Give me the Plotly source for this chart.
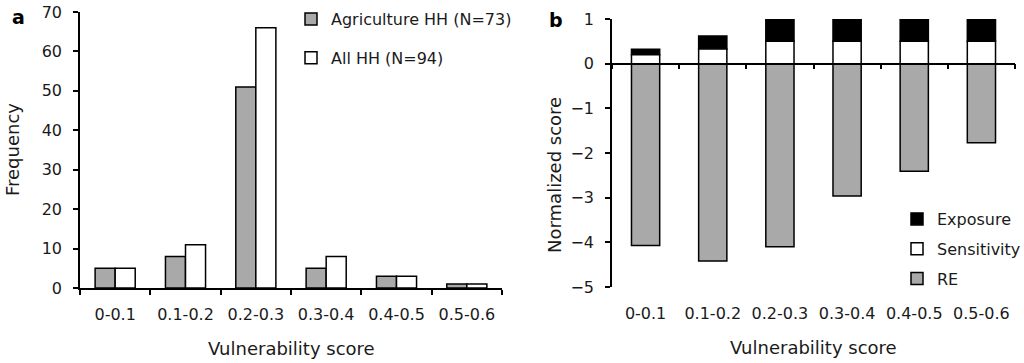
import plotly.graph_objects as go

categories = ["0-0.1", "0.1-0.2", "0.2-0.3", "0.3-0.4", "0.4-0.5", "0.5-0.6"]
agri_hh = [5, 8, 51, 5, 3, 1]
all_hh = [5, 11, 66, 8, 3, 1]
re_score = [-4.07, -4.42, -4.1, -2.96, -2.41, -1.77]
sensitivity = [0.2, 0.33, 0.5, 0.5, 0.5, 0.5]
exposure = [0.12, 0.29, 0.5, 0.5, 0.5, 0.5]

FONT = "DejaVu Sans"
GREY = "#a9a9a9"
LW = 1.5
TXT = "#1a1a1a"

W, H = 1024, 363


def px(X):
    return X / W


def py(Y):
    return 1 - Y / H


fig = go.Figure()

# Panel a
fig.add_trace(go.Bar(x=categories, y=agri_hh, name="Agriculture HH (N=73)",
                     marker=dict(color=GREY, line=dict(color="black", width=LW)),
                     xaxis="x", yaxis="y", legend="legend", legendgroup="a1", hoverinfo="skip"))
fig.add_trace(go.Bar(x=categories, y=all_hh, name="All HH (N=94)",
                     marker=dict(color="white", line=dict(color="black", width=LW)),
                     xaxis="x", yaxis="y", legend="legend", legendgroup="a2", hoverinfo="skip"))

# Panel b (legend order: Exposure, Sensitivity, RE)
fig.add_trace(go.Bar(x=categories, y=exposure, base=sensitivity, name="Exposure", width=0.42, offsetgroup="b",
                     marker=dict(color="black", line=dict(color="black", width=LW)),
                     xaxis="x2", yaxis="y2", legend="legend2", legendgroup="b1", hoverinfo="skip"))
fig.add_trace(go.Bar(x=categories, y=sensitivity, name="Sensitivity", width=0.42, offsetgroup="b",
                     marker=dict(color="white", line=dict(color="black", width=LW)),
                     xaxis="x2", yaxis="y2", legend="legend2", legendgroup="b2", hoverinfo="skip"))
fig.add_trace(go.Bar(x=categories, y=re_score, name="RE", width=0.42, offsetgroup="b",
                     marker=dict(color=GREY, line=dict(color="black", width=LW)),
                     xaxis="x2", yaxis="y2", legend="legend2", legendgroup="b3", hoverinfo="skip"))

axis_common = dict(showline=True, linecolor="black", linewidth=LW, ticks="outside",
                   ticklen=5, tickwidth=LW, tickcolor="black", showgrid=False, zeroline=False,
                   automargin=False, ticklabeloverflow="allow",
                   tickfont=dict(family=FONT, size=16, color=TXT))

fig.update_layout(
    template="none",
    width=W, height=H,
    margin=dict(l=0, r=0, t=0, b=0, pad=0, autoexpand=False),
    paper_bgcolor="white", plot_bgcolor="white",
    barmode="group", bargap=0.43, bargroupgap=0,
    font=dict(family=FONT, size=16, color=TXT),
    xaxis=dict(domain=[px(80), px(502)], anchor="y", type="category",
               categoryorder="array", categoryarray=categories, range=[-0.5, 5.5],
               tickson="boundaries", ticklabelstandoff=11, **axis_common),
    yaxis=dict(domain=[py(288), py(12)], anchor="x", range=[0, 70], dtick=10,
               ticklabelstandoff=8, **axis_common),
    xaxis2=dict(domain=[px(612), px(1015)], anchor="free", position=py(63.7),
                type="category", categoryorder="array", categoryarray=categories,
                range=[-0.5, 5.5], tickson="boundaries", ticklabelstandoff=235, **axis_common),
    yaxis2=dict(domain=[py(287), py(19)], anchor="x2", range=[-5, 1], dtick=1,
                ticklabelstandoff=8, **axis_common),
    legend=dict(x=px(291), y=py(2), xanchor="left", yanchor="top",
                bgcolor="rgba(0,0,0,0)", traceorder="grouped", tracegroupgap=15,
                font=dict(family=FONT, size=16, color=TXT)),
    legend2=dict(x=px(897), y=py(202), xanchor="left", yanchor="top",
                 bgcolor="rgba(0,0,0,0)", traceorder="grouped", tracegroupgap=6,
                 font=dict(family=FONT, size=16, color=TXT)),
    showlegend=True,
    annotations=[
        dict(text="Frequency", x=px(13), y=py(150), textangle=-90, font=dict(size=18)),
        dict(text="Vulnerability score", x=px(291), y=py(348), font=dict(size=18)),
        dict(text="Normalized score", x=px(554), y=py(175), textangle=-90, font=dict(size=18)),
        dict(text="Vulnerability score", x=px(813), y=py(347), font=dict(size=18)),
        dict(text="<b>a</b>", x=px(18), y=py(17), font=dict(size=19, color="black")),
        dict(text="<b>b</b>", x=px(556), y=py(20), font=dict(size=19, color="black")),
    ],
)
fig.update_annotations(xref="paper", yref="paper", showarrow=False,
                       xanchor="center", yanchor="middle")

fig.write_html("out.html", config={"displayModeBar": False},
               post_script="document.body.style.margin='0px';")
